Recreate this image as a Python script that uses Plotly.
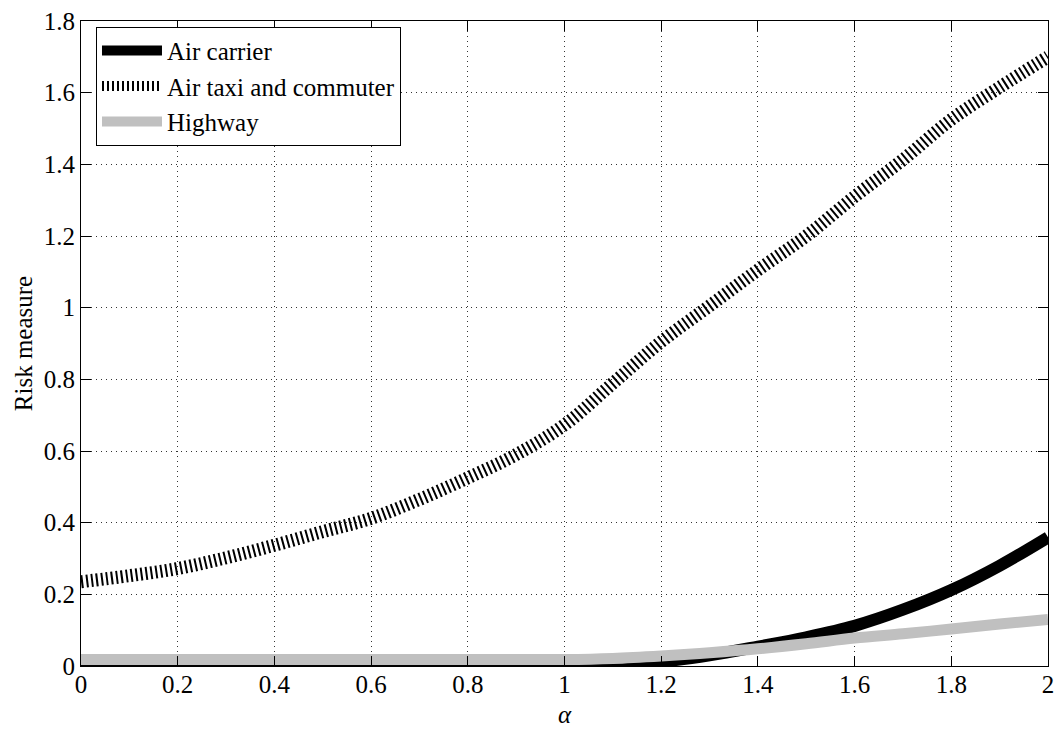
import plotly.graph_objects as go

# ---- data ----
alpha = [0.0, 0.1, 0.2, 0.3, 0.4, 0.5, 0.6, 0.7, 0.8, 0.9, 1.0,
         1.1, 1.2, 1.3, 1.4, 1.5, 1.6, 1.7, 1.8, 1.9, 2.0]

air_carrier = [0.0, 0.0, 0.0, 0.0, 0.0, 0.0, 0.0, 0.0, 0.0, 0.0, 0.0,
               0.003, 0.012, 0.030, 0.054, 0.080, 0.112, 0.157, 0.212, 0.280, 0.359]

air_taxi = [0.235, 0.252, 0.272, 0.302, 0.337, 0.375, 0.412, 0.465, 0.525, 0.590, 0.673,
            0.789, 0.905, 1.005, 1.105, 1.200, 1.310, 1.413, 1.525, 1.615, 1.700]

highway = [0.018, 0.018, 0.018, 0.018, 0.018, 0.018, 0.018, 0.018, 0.018, 0.018, 0.018,
           0.021, 0.028, 0.037, 0.048, 0.062, 0.078, 0.090, 0.103, 0.117, 0.130]

x_ticks = [0, 0.2, 0.4, 0.6, 0.8, 1.0, 1.2, 1.4, 1.6, 1.8, 2.0]
x_tick_text = ["0", "0.2", "0.4", "0.6", "0.8", "1", "1.2", "1.4", "1.6", "1.8", "2"]
y_ticks = [0, 0.2, 0.4, 0.6, 0.8, 1.0, 1.2, 1.4, 1.6, 1.8]
y_tick_text = ["0", "0.2", "0.4", "0.6", "0.8", "1", "1.2", "1.4", "1.6", "1.8"]

series_names = ["Air carrier", "Air taxi and commuter", "Highway"]

FONT = "Liberation Serif, Times New Roman, serif"
FS = 25

fig = go.Figure()
fig.add_trace(go.Scatter(x=alpha, y=air_carrier, mode="lines", name=series_names[0],
                         line=dict(color="black", width=12, shape="spline", smoothing=1.0)))
fig.add_trace(go.Scatter(x=alpha, y=air_taxi, mode="lines", name=series_names[1],
                         line=dict(color="black", width=13, dash="2px,3px",
                                   shape="spline", smoothing=1.0)))
fig.add_trace(go.Scatter(x=alpha, y=highway, mode="lines", name=series_names[2],
                         line=dict(color="#c0c0c0", width=11, shape="spline", smoothing=1.0)))

axis_common = dict(
    showline=True, linecolor="black", linewidth=1, mirror="ticks",
    ticks="inside", ticklen=10, tickwidth=1, tickcolor="black",
    showgrid=True, gridcolor="#333333", gridwidth=1, griddash="1px,4px",
    zeroline=False,
    tickfont=dict(family=FONT, size=FS, color="black"),
)

fig.update_xaxes(range=[0, 2], tickmode="array", tickvals=x_ticks, ticktext=x_tick_text,
                 ticklabelstandoff=-4,
                 title=dict(text="<i>α</i>", font=dict(family=FONT, size=FS, color="black"),
                            standoff=8),
                 **axis_common)
fig.update_yaxes(range=[0, 1.8], tickmode="array", tickvals=y_ticks, ticktext=y_tick_text,
                 title=dict(text="Risk measure", font=dict(family=FONT, size=FS, color="black"),
                            standoff=4),
                 **axis_common)

fig.update_layout(
    width=1057, height=730,
    margin=dict(l=81, r=9, t=21, b=64, autoexpand=False),
    paper_bgcolor="white", plot_bgcolor="white",
    font=dict(family=FONT, size=FS, color="black"),
    legend=dict(x=0.0155, y=0.991, xanchor="left", yanchor="top",
                bgcolor="white", bordercolor="black", borderwidth=1,
                font=dict(family=FONT, size=FS, color="black"),
                itemwidth=60, tracegroupgap=0),
    showlegend=True,
)

fig.write_html("out.html")
